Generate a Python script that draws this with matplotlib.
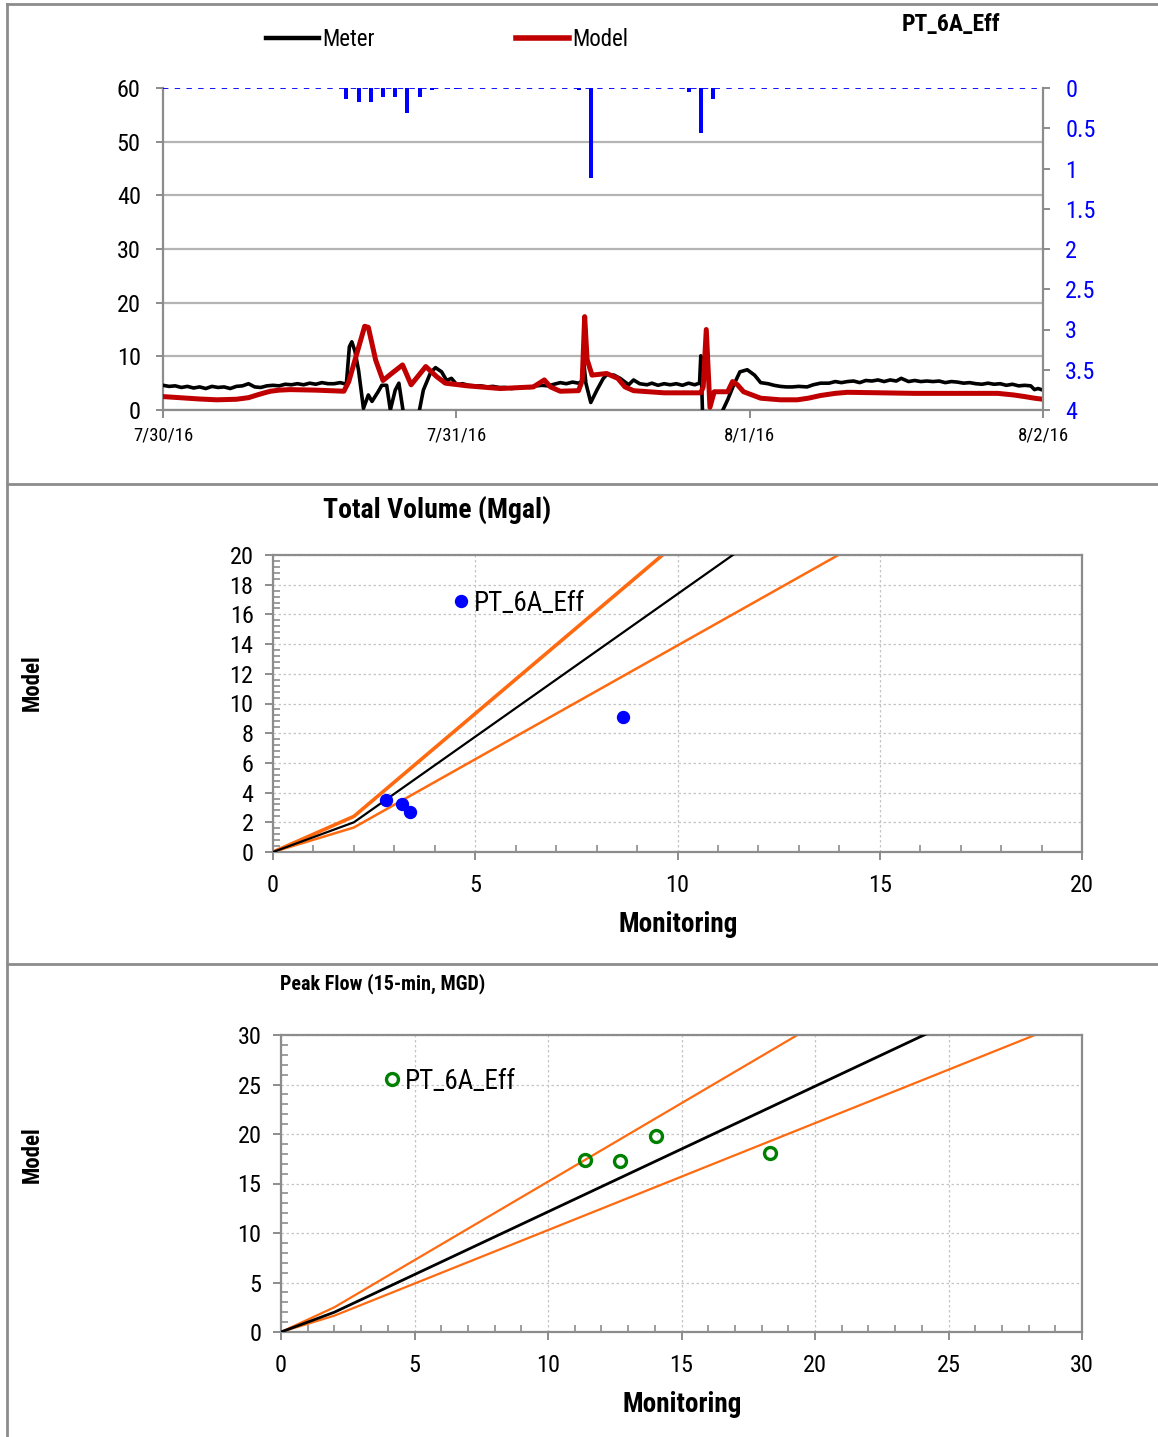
import matplotlib
matplotlib.use("Agg")
import numpy as np
import matplotlib.pyplot as plt
from matplotlib.lines import Line2D
from matplotlib.ticker import MultipleLocator, FuncFormatter
from matplotlib import font_manager as fm

# ---------------------------------------------------------------- fonts
_names = {f.name for f in fm.fontManager.ttflist}
FONT = next((n for n in ("Roboto Condensed", "Pragati Narrow", "Liberation Sans")
             if n in _names), "DejaVu Sans")
plt.rcParams["font.family"] = [FONT, "DejaVu Sans"]

# ---------------------------------------------------------------- data
site_name = "PT_6A_Eff"

# hours after 7/30/16 00:00
day_ticks = [0, 24, 48, 72]
day_labels = ["7/30/16", "7/31/16", "8/1/16", "8/2/16"]

meter_hours = [
    0.0, 0.5, 1.0, 1.5, 2.0, 2.5, 3.0, 3.5, 4.0, 4.5, 5.0, 5.5, 6.0, 6.5, 7.0,
    7.5, 8.0, 8.5, 9.0, 9.5, 10.0, 10.5, 11.0, 11.5, 12.0, 12.5, 13.0, 13.5,
    14.0, 14.5, 15.0, 15.25, 15.45, 15.7, 16.0, 16.4, 16.8, 17.1, 17.6, 17.9,
    18.3, 18.6, 19.0, 19.3, 19.7, 20.9, 21.3, 21.9, 22.3, 22.8, 23.2, 23.6,
    24.05, 24.5, 25.0, 25.5, 26.0, 26.5, 27.0, 27.5, 28.0, 28.5, 29.0, 29.5,
    30.0, 30.5, 31.0, 31.5, 32.0, 32.5, 33.0, 33.5, 34.0, 34.25, 34.4, 34.6,
    35.0, 35.5, 36.0, 36.3, 36.9, 37.4, 38.1, 38.5, 39.0, 39.6, 40.0, 40.5,
    41.0, 41.5, 42.0, 42.5, 43.0, 43.5, 43.9, 44.0, 44.15, 45.6, 46.2, 46.7,
    47.2, 47.8, 48.4, 48.9, 49.5, 50.0, 50.5, 51.0, 51.5, 52.0, 52.7, 53.2,
    53.8, 54.5, 55.0, 55.5, 56.0, 56.5, 57.0, 57.5, 58.0, 58.5, 59.0, 59.5,
    60.0, 60.4, 61.0, 61.5, 62.0, 62.5, 63.0, 63.5, 64.0, 64.5, 65.0, 65.5,
    66.0, 66.5, 67.0, 67.5, 68.0, 68.5, 69.0, 69.5, 70.0, 70.5, 71.0, 71.3,
    71.6, 72.0,
]
meter_mgd = [
    4.6, 4.4, 4.5, 4.2, 4.4, 4.1, 4.3, 4.0, 4.4, 4.2, 4.3, 4.0, 4.4, 4.5, 4.9,
    4.3, 4.2, 4.5, 4.6, 4.5, 4.8, 4.7, 4.9, 4.7, 5.0, 4.8, 5.1, 4.9,
    4.9, 5.1, 4.8, 11.8, 12.7, 11.0, 7.4, 0.3, 2.8, 1.6, 3.4, 4.6,
    4.6, 0.0, 3.7, 5.0, -1.0, -1.0, 3.7, 7.0, 7.9, 7.1, 5.5, 5.9,
    4.7, 4.9, 4.6, 4.5, 4.5, 4.3, 4.4, 4.2, 4.2, 4.0, 4.1, 4.3,
    4.2, 4.5, 4.6, 4.5, 4.8, 5.1, 4.9, 5.2, 5.0, 5.3, 9.5, 5.0,
    1.4, 3.7, 5.8, 6.6, 6.5, 5.9, 4.7, 5.6, 4.9, 4.7, 5.0, 4.6,
    4.9, 4.7, 4.9, 4.6, 5.0, 4.7, 5.0, 10.1, -1.0, -1.0, 1.9, 4.7,
    7.1, 7.5, 6.5, 5.1, 4.9, 4.6, 4.4, 4.3, 4.3, 4.4, 4.3, 4.7,
    5.0, 5.0, 5.3, 5.1, 5.3, 5.4, 5.1, 5.5, 5.4, 5.6, 5.3, 5.6,
    5.4, 5.9, 5.3, 5.5, 5.3, 5.4, 5.3, 5.4, 5.1, 5.3, 5.2, 5.0,
    5.1, 4.9, 4.8, 5.0, 4.8, 4.9, 4.6, 4.8, 4.5, 4.6, 4.5, 3.8,
    4.0, 3.7,
]

model_hours = [
    0.0, 1.0, 2.0, 3.0, 4.4, 6.0, 7.0, 7.7, 8.3, 8.8, 9.5, 10.4, 12.5, 14.8,
    15.2, 16.5, 16.8, 17.4, 18.0, 18.7, 19.6, 20.3, 21.5, 22.4, 23.1, 24.9,
    27.6, 30.3, 31.2, 31.7, 32.5, 34.0, 34.3, 34.5, 34.7, 35.1, 36.3, 37.2,
    37.8, 38.5, 41.0, 44.0, 44.2, 44.45, 44.75, 45.1, 46.2, 46.6, 47.0, 47.5,
    48.9, 50.5, 51.9, 52.8, 53.8, 55.0, 56.0, 61.5, 68.3, 69.6, 70.5, 71.3,
    72.0,
]
model_mgd = [
    2.5, 2.35, 2.2, 2.05, 1.9, 2.0, 2.3, 2.8, 3.2, 3.5, 3.7, 3.8, 3.7, 3.5,
    5.3, 15.6, 15.4, 9.3, 5.5, 6.8, 8.4, 4.7, 8.1, 6.2, 5.0, 4.5,
    4.0, 4.3, 5.6, 4.3, 3.5, 3.6, 5.5, 17.4, 9.4, 6.5, 6.8, 5.9,
    4.3, 3.6, 3.2, 3.2, 4.3, 15.0, 0.5, 3.4, 3.4, 5.3, 4.7, 3.4,
    2.2, 1.9, 1.9, 2.2, 2.7, 3.1, 3.3, 3.1, 3.1, 2.8, 2.5, 2.2,
    2.0,
]

rain_hours = [15, 16, 17, 18, 19, 20, 21, 22, 24, 34, 35, 43, 44, 45]
rain_in = [0.14, 0.17, 0.18, 0.11, 0.11, 0.31, 0.11, 0.03, 0.01, 0.03, 1.12,
           0.05, 0.56, 0.14]

# total volume (Mgal): monitoring vs model
vol_monitoring = [2.79, 3.19, 3.39, 8.66]
vol_model = [3.47, 3.23, 2.68, 9.08]
vol_ref_x = [0, 2, 16]
vol_ref_mid = [0, 2.0, 28.9]
vol_ref_high = [0, 2.4, 34.7]
vol_ref_low = [0, 1.65, 23.1]

# peak flow (15-min, MGD): monitoring vs model
peak_monitoring = [11.4, 12.7, 14.05, 18.3]
peak_model = [17.4, 17.3, 19.8, 18.1]
peak_ref_x = [0, 2, 30]
peak_ref_mid = [0, 2.0, 37.5]
peak_ref_high = [0, 2.5, 46.9]
peak_ref_low = [0, 1.65, 31.9]

# ---------------------------------------------------------------- styling
W, H = 1158, 1437
GREY = "#8c8c8c"
GRID = "#b4b4b4"
ORANGE = "#ff6a10"
RED = "#c00000"
BLUE = "#0000ff"
GREEN = "#008000"

fig = plt.figure(figsize=(W / 100, H / 100), dpi=100)


def box(left, top, right, bottom):
    return [left / W, 1 - bottom / H, (right - left) / W, (bottom - top) / H]


def fx(px):
    return px / W


def fy(py):
    return 1 - py / H


# panel frame
for (x0, y0, x1, y1) in [(7, 4, W, 4), (7, 484, W, 484), (7, 964, W, 964), (7, 4, 7, H)]:
    fig.add_artist(Line2D([fx(x0), fx(x1)], [fy(y0), fy(y1)], transform=fig.transFigure,
                          color=GREY, lw=2.0))

# ================================================================ hydrograph
ax = fig.add_axes(box(163, 88, 1043, 410))
ax.plot(meter_hours, meter_mgd, color="black", lw=2.6, zorder=3)
ax.plot(model_hours, model_mgd, color=RED, lw=3.6, zorder=4)
ax.set_xlim(0, 72)
ax.set_ylim(0, 60)
ax.set_xticks(day_ticks)
ax.set_xticklabels(day_labels)
ax.set_yticks(np.arange(0, 61, 10))
ax.grid(axis="y", color=GRID, lw=1.6)
ax.yaxis.get_gridlines()[-1].set_visible(False)
ax.set_axisbelow(True)
ax.spines["top"].set_visible(False)
ax.spines["right"].set_visible(False)
for s in ("left", "bottom"):
    ax.spines[s].set_color(GREY)
    ax.spines[s].set_linewidth(1.6)
ax.tick_params(axis="y", direction="out", length=5, width=1.4, color=GREY,
               labelsize=17.5, pad=11)
ax.tick_params(axis="x", direction="out", length=6, width=1.4, color=GREY,
               labelsize=13.5, pad=6)

ax2 = ax.twinx()
ax2.bar(rain_hours, rain_in, width=0.33, color=BLUE, zorder=3)
ax2.axhline(0, color=BLUE, lw=1.3, ls=(0, (3, 3.5)), zorder=2)
ax2.set_ylim(4, 0)
ax2.set_yticks(np.arange(0, 4.01, 0.5))
ax2.yaxis.set_major_formatter(FuncFormatter(lambda v, p: f"{v:g}"))
for s in ("top", "left", "bottom"):
    ax2.spines[s].set_visible(False)
ax2.spines["right"].set_color(GREY)
ax2.spines["right"].set_linewidth(1.6)
ax2.tick_params(axis="y", direction="out", length=5, width=1.4, color=GREY,
                labelcolor=BLUE, labelsize=17.5, pad=11)

fig.legend(handles=[Line2D([], [], color="black", lw=3.2),
                    Line2D([], [], color=RED, lw=4.0)],
           labels=["Meter", "Model"], loc="center left",
           bbox_to_anchor=(fx(266), fy(40)), ncol=2, frameon=False,
           handlelength=2.3, handletextpad=0.17, columnspacing=6.15,
           borderpad=0, borderaxespad=0, fontsize=16.5)
fig.text(fx(951), fy(25), site_name, ha="center", va="center",
         fontsize=17, fontweight="bold")


# ================================================================ scatter panels
def style_scatter(a, xmax, ymax, xmaj, ymaj, xmin, ymin):
    a.set_xlim(0, xmax)
    a.set_ylim(0, ymax)
    a.xaxis.set_major_locator(MultipleLocator(xmaj))
    a.yaxis.set_major_locator(MultipleLocator(ymaj))
    a.xaxis.set_minor_locator(MultipleLocator(xmin))
    a.yaxis.set_minor_locator(MultipleLocator(ymin))
    a.grid(which="major", color="#c4c4c4", lw=0.9, ls=(0, (2, 2)))
    a.set_axisbelow(True)
    for s in a.spines.values():
        s.set_color(GREY)
        s.set_linewidth(1.6)
    a.tick_params(which="major", direction="out", length=6, width=1.4, color=GREY,
                  labelsize=17.5)
    a.tick_params(axis="y", which="major", pad=8)
    a.tick_params(axis="x", which="major", pad=10)
    a.tick_params(which="minor", direction="in", length=5, width=1.2, color=GREY)


# ---- total volume
axv = fig.add_axes(box(273, 555, 1082, 852))
axv.plot(vol_ref_x, vol_ref_high, color=ORANGE, lw=2.6, zorder=2)
axv.plot(vol_ref_x, vol_ref_mid, color="black", lw=1.6, zorder=3)
axv.plot(vol_ref_x, vol_ref_low, color=ORANGE, lw=1.8, zorder=2)
axv.plot(vol_monitoring, vol_model, "o", color=BLUE, ms=8.6, zorder=5,
         label=site_name)
style_scatter(axv, 20, 20, 5, 2, 1, 0.4)
axv.legend(loc="center left", bbox_to_anchor=(0.224, 0.838), frameon=False,
           handlelength=0.5, handletextpad=0.22, borderpad=0, borderaxespad=0,
           fontsize=19.5)
fig.text(fx(437), fy(510), "Total Volume (Mgal)", ha="center", va="center",
         fontsize=20, fontweight="bold")
fig.text(fx(678), fy(924), "Monitoring", ha="center", va="center",
         fontsize=19.5, fontweight="bold")
fig.text(fx(32), fy(683), "Model", ha="center", va="center", rotation=90,
         fontsize=16.5, fontweight="bold")

# ---- peak flow
axp = fig.add_axes(box(281, 1035, 1082, 1332))
axp.plot(peak_ref_x, peak_ref_high, color=ORANGE, lw=1.6, zorder=2)
axp.plot(peak_ref_x, peak_ref_mid, color="black", lw=2.0, zorder=3)
axp.plot(peak_ref_x, peak_ref_low, color=ORANGE, lw=1.6, zorder=2)
axp.plot(peak_monitoring, peak_model, "o", mfc="none", mec=GREEN, mew=2.4,
         ms=8.6, zorder=5, label=site_name)
style_scatter(axp, 30, 30, 5, 5, 1, 1)
axp.legend(loc="center left", bbox_to_anchor=(0.130, 0.845), frameon=False,
           handlelength=0.5, handletextpad=0.22, borderpad=0, borderaxespad=0,
           fontsize=19.5)
fig.text(fx(383), fy(984), "Peak Flow (15-min, MGD)", ha="center", va="center",
         fontsize=14.5, fontweight="bold")
fig.text(fx(682), fy(1404), "Monitoring", ha="center", va="center",
         fontsize=19.5, fontweight="bold")
fig.text(fx(32), fy(1155), "Model", ha="center", va="center", rotation=90,
         fontsize=16.5, fontweight="bold")

fig.savefig("out.png", dpi=100)
